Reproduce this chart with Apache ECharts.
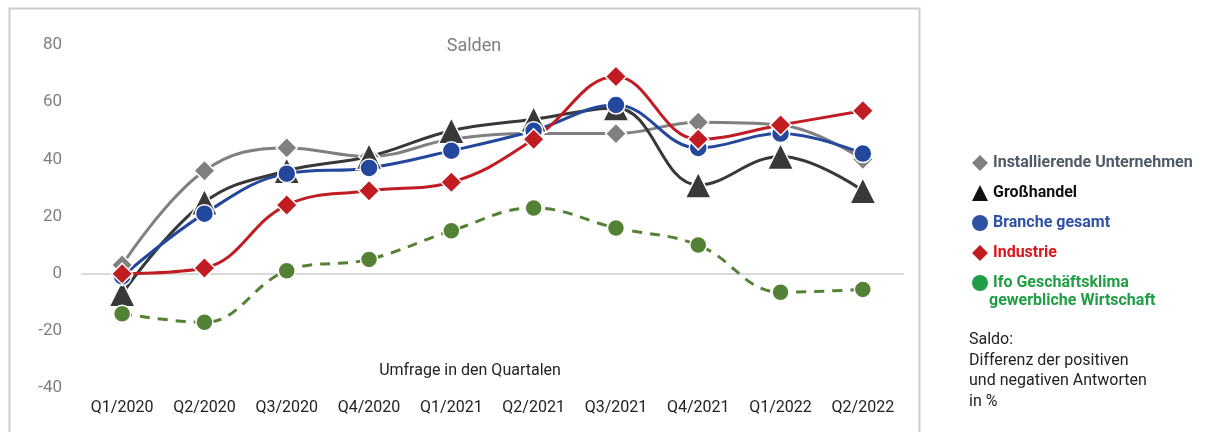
<!DOCTYPE html>
<html>
<head>
<meta charset="utf-8">
<script src="https://cdn.jsdelivr.net/npm/echarts@6/dist/echarts.min.js"></script>
<style>
html,body{margin:0;padding:0;background:#fff;}
#chart{width:1205px;height:432px;}
</style>
</head>
<body>
<div id="chart"></div>
<script>
const categories = ['Q1/2020','Q2/2020','Q3/2020','Q4/2020','Q1/2021','Q2/2021','Q3/2021','Q4/2021','Q1/2022','Q2/2022'];
const installierende = [3, 36, 44, 41, 47, 49, 49, 53, 52, 40];
const grosshandel = [-7, 25, 36, 41, 50, 54, 58, 31, 41, 29];
const branche = [-1, 21, 35, 37, 43, 50, 59, 44, 49, 42];
const industrie = [0, 2, 24, 29, 32, 47, 69, 47, 52, 57];
const ifo = [-14, -17, 1, 5, 15, 23, 16, 10, -6.5, -5.5];
const yTicks = [-40, -20, 0, 20, 40, 60, 80];

const names = ['Installierende Unternehmen','Großhandel','Branche gesamt','Industrie','Ifo Geschäftsklima gewerbliche Wirtschaft'];
const FONT = 'Roboto, "Noto Sans", sans-serif';

const chart = echarts.init(document.getElementById('chart'));

function lineSeries(name, data, color, symbol, size, dashed, extra) {
  return Object.assign({
    name: name,
    type: 'line',
    data: data,
    smooth: 0.4,
    symbol: symbol,
    symbolSize: size,
    lineStyle: {color: color, width: 3, type: dashed ? [10, 8] : 'solid'},
    itemStyle: {color: color, borderColor: '#ffffff', borderWidth: 1.5},
    emphasis: {disabled: true}
  }, extra || {});
}

chart.setOption({
  animation: false,
  textStyle: {fontFamily: FONT},
  title: [
    {text: 'Salden', left: 469, top: 32, textAlign: 'center',
     textStyle: {color: '#7f7f7f', fontSize: 18, fontWeight: 'normal', fontFamily: FONT}},
    {text: 'Umfrage in den Quartalen', left: 465, top: 358, textAlign: 'center',
     textStyle: {color: '#222222', fontSize: 16, fontWeight: 'normal', fontFamily: FONT}}
  ],
  grid: {left: 81, right: 1205 - 904, top: 45, bottom: 432 - 388, containLabel: false},
  xAxis: {
    type: 'category',
    data: categories,
    boundaryGap: true,
    axisLine: {show: false},
    axisTick: {show: false},
    axisLabel: {color: '#222222', fontSize: 16, margin: 12, fontFamily: FONT},
    splitLine: {show: false}
  },
  yAxis: {
    type: 'value',
    min: yTicks[0],
    max: yTicks[yTicks.length - 1],
    interval: 20,
    axisLine: {show: false},
    axisTick: {show: false},
    splitLine: {show: false},
    axisLabel: {color: '#7f7f7f', fontSize: 17, margin: 19, fontFamily: FONT}
  },
  legend: {
    orient: 'vertical',
    left: 967,
    top: 149,
    itemGap: 12,
    itemWidth: 16,
    itemHeight: 16,
    selectedMode: false,
    data: [
      {name: names[0], icon: 'diamond', itemStyle: {color: '#7f7f7f', borderWidth: 0}},
      {name: names[1], icon: 'triangle', itemStyle: {color: '#111111', borderWidth: 0}},
      {name: names[2], icon: 'circle', itemStyle: {color: '#2f52a5', borderWidth: 0}},
      {name: names[3], icon: 'diamond', itemStyle: {color: '#c01c22', borderWidth: 0}},
      {name: names[4], icon: 'circle', itemStyle: {color: '#1f9e46', borderWidth: 0}}
    ],
    formatter: function (n) {
      const i = names.indexOf(n);
      const keys = ['a', 'b', 'c', 'd', 'e'];
      const label = i === 4 ? 'Ifo Geschäftsklima' : n;
      return '{' + keys[i] + '|' + label + '}';
    },
    textStyle: {
      fontFamily: FONT, fontSize: 16, fontWeight: 'bold', lineHeight: 18,
      rich: {
        a: {color: '#4f5b66', fontSize: 16, fontWeight: 'bold', fontFamily: FONT},
        b: {color: '#111111', fontSize: 16, fontWeight: 'bold', fontFamily: FONT},
        c: {color: '#2f52a5', fontSize: 16, fontWeight: 'bold', fontFamily: FONT},
        d: {color: '#e0141c', fontSize: 16, fontWeight: 'bold', fontFamily: FONT},
        e: {color: '#1f9e46', fontSize: 16, fontWeight: 'bold', fontFamily: FONT}
      }
    }
  },
  graphic: [
    {type: 'rect', left: 7, top: 6, z: -10, silent: true,
     shape: {width: 910, height: 440},
     style: {fill: 'none', stroke: '#cccccc', lineWidth: 2}},
    {type: 'text', left: 989, top: 293, silent: true,
     style: {text: 'gewerbliche Wirtschaft', fill: '#1f9e46', font: 'bold 16px ' + FONT}},
    {type: 'text', left: 969, top: 330, silent: true,
     style: {text: 'Saldo:\nDifferenz der positiven\nund negativen Antworten\nin %', fill: '#222222',
             font: '16px ' + FONT, lineHeight: 20.5}}
  ],
  series: [
    lineSeries(names[0], installierende, '#808080', 'diamond', 21, false, {
      markLine: {
        silent: true, symbol: 'none', z: 1,
        label: {show: false},
        lineStyle: {color: '#d9d9d9', width: 2, type: 'solid'},
        data: [{yAxis: 0}]
      }
    }),
    lineSeries(names[1], grosshandel, '#383838', 'triangle', 26, false),
    lineSeries(names[2], branche, '#22479c', 'circle', 18, false),
    lineSeries(names[3], industrie, '#c01c22', 'diamond', 21, false),
    lineSeries(names[4], ifo, '#548235', 'circle', 17, true)
  ]
});
</script>
</body>
</html>
